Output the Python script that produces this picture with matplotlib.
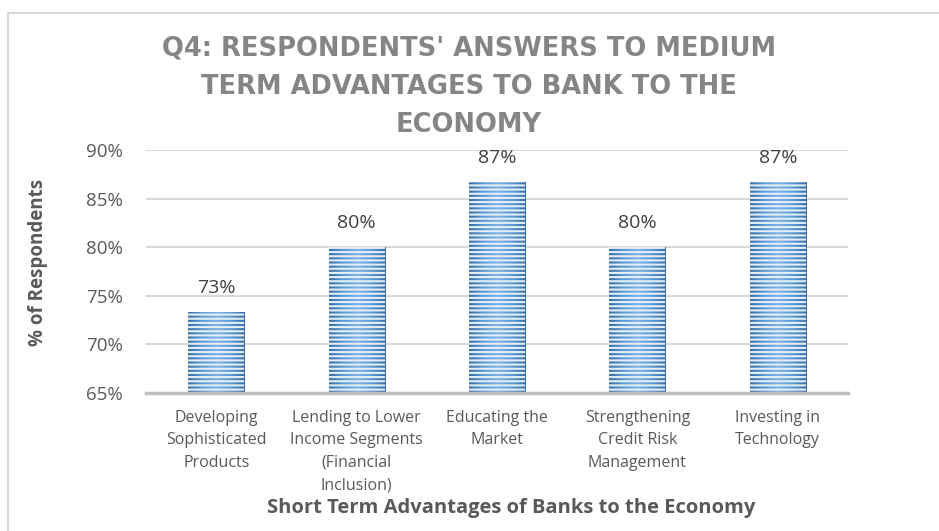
import matplotlib
matplotlib.use("Agg")
import matplotlib.pyplot as plt
import numpy as np
from matplotlib.colors import LinearSegmentedColormap
from matplotlib.lines import Line2D

categories = ["Developing\nSophisticated\nProducts",
              "Lending to Lower\nIncome Segments\n(Financial\nInclusion)",
              "Educating the\nMarket",
              "Strengthening\nCredit Risk\nManagement",
              "Investing in\nTechnology"]
values = [73.33, 80.0, 86.67, 80.0, 86.67]
value_labels = ["73%", "80%", "87%", "80%", "87%"]
yticks = [65, 70, 75, 80, 85, 90]
ytick_labels = ["65%", "70%", "75%", "80%", "85%", "90%"]
title = "Q4: RESPONDENTS' ANSWERS TO MEDIUM\nTERM ADVANTAGES TO BANK TO THE\nECONOMY"
xlabel = "Short Term Advantages of Banks to the Economy"
ylabel = "% of Respondents"

plt.rcParams['font.family'] = ['Open Sans', 'DejaVu Sans']
plt.rcParams['hatch.linewidth'] = 1.5

W, H = 939, 531
fig = plt.figure(figsize=(W/100, H/100), dpi=100)
ax = fig.add_axes([146/W, 1-393/H, (848-146)/W, (393-150)/H])

x = np.arange(len(categories))
base = 65
bars = ax.bar(x, np.array(values) - base, bottom=base, width=0.4,
              color='none', edgecolor='#E4EEF8', hatch='----', linewidth=0, zorder=3)

cmap = LinearSegmentedColormap.from_list('g', ['#3A6EA5', '#5B9BD5', '#7DB2E6', '#5B9BD5', '#3A6EA5'])
grad = np.linspace(0, 1, 200).reshape(1, -1)
for b in bars:
    x0, w = b.get_x(), b.get_width()
    y0, h = b.get_y(), b.get_height()
    ax.imshow(grad, cmap=cmap, extent=[x0, x0 + w, y0, y0 + h], aspect='auto', zorder=2)

for b, lab in zip(bars, value_labels):
    ax.annotate(lab, (b.get_x() + b.get_width()/2, b.get_y() + b.get_height()),
                xytext=(0, 11), textcoords='offset points', ha='center', va='bottom',
                fontsize=14, color='#404040')

ax.set_xlim(-0.5, len(categories) - 0.5)
ax.set_ylim(65, 90)
ax.set_yticks(yticks)
ax.set_yticklabels(ytick_labels, fontsize=13.5, color='#595959')
ax.set_xticks(x)
ax.set_xticklabels(categories, fontsize=11.5, color='#595959', linespacing=1.55)
ax.tick_params(axis='y', length=0, pad=16.5)
ax.tick_params(axis='x', length=0, pad=12)
ax.grid(axis='y', color='#D9D9D9', linewidth=1.5, zorder=0)
ax.set_axisbelow(True)
for s in ['top', 'right', 'left']:
    ax.spines[s].set_visible(False)
ax.spines['bottom'].set_color('#BFBFBF')
ax.spines['bottom'].set_linewidth(2.5)
ax.spines['bottom'].set_zorder(4)

fig.text(511/W, 1-508/H, xlabel, ha='center', va='center', fontsize=14.5,
         fontweight='bold', color='#595959')
fig.text(38/W, 1-262/H, ylabel, ha='center', va='center', rotation=90,
         fontsize=13.5, fontweight='bold', color='#595959')
fig.text(469/W, 1-87/H, title, ha='center', va='center', fontsize=18.5,
         fontweight='bold', color='#858585', linespacing=1.6,
         family=['DejaVu Sans'])

fig.add_artist(Line2D([8/W, 1], [1-13/H, 1-13/H], color='#D9D9D9', linewidth=1.5))
fig.add_artist(Line2D([8/W, 8/W], [0, 1-13/H], color='#D9D9D9', linewidth=1.5))

fig.savefig('out.png', dpi=100)
